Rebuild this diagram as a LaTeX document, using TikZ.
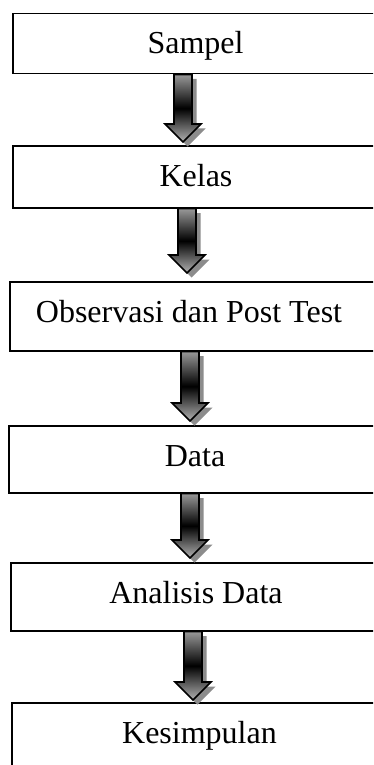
\documentclass[tikz,border=0pt]{standalone}
\usepackage{fontspec}
\setmainfont{Liberation Serif}
\usetikzlibrary{calc,shadows}

\tikzset{
  stagebox/.style={draw=black, line width=1.5pt, rectangle, inner sep=0pt, anchor=north west},
  stagetext/.style={anchor=base, inner sep=0pt, font=\fontsize{32}{38}\selectfont},
  % thick block arrow with a vertical gradient and a grey offset shadow
  blockarrow/.style={draw=black, line width=1.6pt,
    top color=gray!80, bottom color=gray!60, middle color=black,
    drop shadow={shadow xshift=4.5pt, shadow yshift=-4.5pt, fill=gray!90, opacity=1},
    to path={let \p1=(\tikztostart), \p2=(\tikztotarget) in
      (\x1-9pt,\y1) -- (\x1-9pt,\y2+18pt) -- (\x1-18pt,\y2+18pt) -- (\x2,\y2)
      -- (\x1+18pt,\y2+18pt) -- (\x1+9pt,\y2+18pt) -- (\x1+9pt,\y1) -- cycle}}
}

\begin{document}
\begin{tikzpicture}[x=1pt, y=-1pt]
  \clip (0,0) rectangle (373,765);

  % stage boxes (they run past the right and bottom edges of the page)
  \node[stagebox, minimum width=370pt, minimum height=60pt] (b1) at (12,13) {};
  \node[stagebox, minimum width=370pt, minimum height=62pt] (b2) at (12,145) {};
  \node[stagebox, minimum width=373pt, minimum height=69pt] (b3) at (9,281) {};
  \node[stagebox, minimum width=374pt, minimum height=67pt] (b4) at (8,425) {};
  \node[stagebox, minimum width=372pt, minimum height=68pt] (b5) at (10,562) {};
  \node[stagebox, minimum width=371pt, minimum height=80pt] (b6) at (11,702) {};

  % stage labels
  \node[stagetext] (t1) at (195.5,54) {Sampel};
  \node[stagetext] (t2) at (196,186) {Kelas};
  \node[stagetext] (t3) at (189,322) {Observasi dan Post Test};
  \node[stagetext] (t4) at (195,466) {Data};
  \node[stagetext] (t5) at (196,603) {Analisis Data};
  \node[stagetext] (t6) at (199.5,743) {Kesimpulan};

  % arrows between consecutive stages
  \path[blockarrow] (183,0 |- b1.south) to ($(183,0 |- b2.north)+(0,-3)$);
  \path[blockarrow] (187,0 |- b2.south) to ($(187,0 |- b3.north)+(0,-8)$);
  \path[blockarrow] (190,0 |- b3.south) to ($(190,0 |- b4.north)+(0,-4)$);
  \path[blockarrow] (190,0 |- b4.south) to ($(190,0 |- b5.north)+(0,-4)$);
  \path[blockarrow] (193,0 |- b5.south) to ($(193,0 |- b6.north)+(0,-2)$);
\end{tikzpicture}
\end{document}
